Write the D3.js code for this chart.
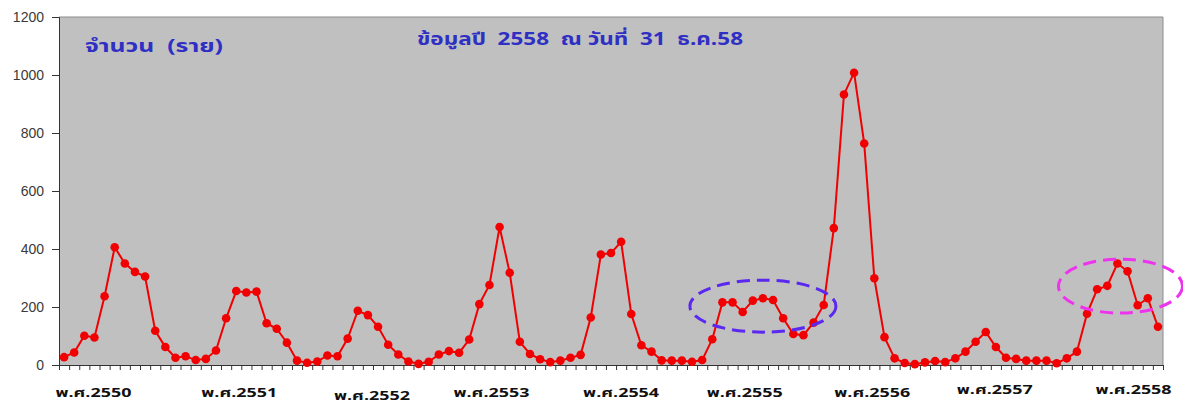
<!DOCTYPE html>
<html>
<head>
<meta charset="utf-8">
<script src="https://cdn.jsdelivr.net/npm/d3@7"></script>
<style>
  body { margin: 0; background: #fff; }
  svg { display: block; }
  .ytick text { font-family: Arial, "Liberation Sans", sans-serif; font-size: 14px; fill: #3a3a3a; }
  .xlab { font-family: Tahoma, "Noto Sans Thai", "DejaVu Sans", sans-serif; font-size: 13px; font-weight: bold; fill: #111; }
  .note { font-family: Tahoma, "Noto Sans Thai", "DejaVu Sans", sans-serif; font-weight: bold; fill: #2f2fc4; white-space: pre; }
</style>
</head>
<body>
<div id="chart"></div>
<script>
// monthly cases, Jan 2550 onwards (last value trails past Dec 2558)
var cases = [
  27, 43, 101, 95, 237, 406, 350, 321, 305, 118, 62, 25,
  30, 17, 21, 50, 161, 255, 250, 253, 144, 125, 77, 15,
  8, 12, 33, 30, 91, 187, 172, 132, 70, 36, 12, 4,
  11, 36, 48, 42, 88, 210, 276, 476, 318, 80, 38, 20,
  10, 15, 25, 35, 164, 381, 386, 425, 176, 68, 46, 16,
  15, 15, 11, 17, 89, 216, 216, 183, 222, 230, 224, 161,
  107, 103, 146, 207, 472, 933, 1008, 764, 299, 96, 23, 7,
  3, 9, 14, 10, 23, 46, 80, 114, 62, 25, 21, 15,
  15, 15, 6, 23, 46, 177, 261, 273, 350, 323, 206, 230, 132
];
var yearLabels = ['พ.ศ.2550', 'พ.ศ.2551', 'พ.ศ.2552', 'พ.ศ.2553', 'พ.ศ.2554',
                  'พ.ศ.2555', 'พ.ศ.2556', 'พ.ศ.2557', 'พ.ศ.2558'];
var yTicks = [0, 200, 400, 600, 800, 1000, 1200];
var unitText = 'จำนวน  (ราย)';
var titleText = 'ข้อมูลปี  2558  ณ วันที่  31  ธ.ค.58';

var width = 1183, height = 405;
var plotL = 59, plotR = 1163, plotT = 17, plotB = 365;

var svg = d3.select('#chart').append('svg')
  .attr('width', width)
  .attr('height', height);

var x = d3.scaleBand().domain(d3.range(cases.length)).range([plotL, plotR]);
var xEdge = d3.scaleLinear().domain([0, cases.length]).range([plotL, plotR]);
var y = d3.scaleLinear().domain([0, 1200]).range([plotB, plotT]);
var cx = function(i) { return x(i) + x.bandwidth() / 2; };

// plot area
svg.append('rect')
  .attr('x', plotL).attr('y', plotT)
  .attr('width', plotR - plotL).attr('height', plotB - plotT)
  .attr('fill', '#c0c0c0');
svg.append('path')
  .attr('d', 'M' + plotL + ',' + plotT + 'H' + plotR + 'V' + plotB)
  .attr('fill', 'none').attr('stroke', '#8c8c8c');

// y axis
var yAxis = svg.append('g')
  .attr('class', 'ytick')
  .attr('transform', 'translate(' + plotL + ',0)')
  .call(d3.axisLeft(y).tickValues(yTicks).tickSize(7).tickPadding(8).tickFormat(d3.format('d')));
yAxis.select('.domain').attr('stroke', '#333');
yAxis.selectAll('line').attr('stroke', '#333');

// x axis, ticks on category edges
var xAxis = svg.append('g')
  .attr('transform', 'translate(0,' + plotB + ')')
  .call(d3.axisBottom(xEdge).tickValues(d3.range(cases.length + 1)).tickSize(5).tickFormat(''));
xAxis.select('.domain').attr('stroke', '#333');
xAxis.selectAll('line').attr('stroke', '#333');

// year labels (hand placed like the original text boxes)
var labelSlot = [2.9, 17.3, 30.4, 42.2, 55.0, 67.2, 79.8, 91.9, 105.6];
var labelY = [397, 397, 400, 397, 397, 397, 397, 394, 394];
svg.selectAll('.xlab')
  .data(yearLabels)
  .enter().append('text')
  .attr('class', 'xlab')
  .attr('x', function(d, i) { return xEdge(labelSlot[i] + 0.5) - 38; })
  .attr('y', function(d, i) { return labelY[i]; })
  .attr('textLength', 76)
  .attr('lengthAdjust', 'spacingAndGlyphs')
  .text(function(d) { return d; });

// series
var line = d3.line()
  .x(function(d, i) { return cx(i); })
  .y(function(d) { return y(d); });

svg.append('path')
  .datum(cases)
  .attr('d', line)
  .attr('fill', 'none')
  .attr('stroke', '#f00000')
  .attr('stroke-width', 2);

svg.selectAll('.dot')
  .data(cases)
  .enter().append('circle')
  .attr('class', 'dot')
  .attr('cx', function(d, i) { return cx(i); })
  .attr('cy', function(d) { return y(d); })
  .attr('r', 4.3)
  .attr('fill', '#f00000');

// highlight rings
svg.append('ellipse')
  .attr('cx', xEdge(69.5)).attr('cy', y(203))
  .attr('rx', 73).attr('ry', 26)
  .attr('fill', 'none').attr('stroke', '#5a28f0')
  .attr('stroke-width', 3).attr('stroke-dasharray', '13,7');
svg.append('ellipse')
  .attr('cx', xEdge(104.8)).attr('cy', y(272))
  .attr('rx', 62).attr('ry', 27)
  .attr('fill', 'none').attr('stroke', '#ee33ee')
  .attr('stroke-width', 3).attr('stroke-dasharray', '13,7');

// notes
svg.append('text')
  .attr('class', 'note')
  .attr('x', 85).attr('y', 52)
  .attr('font-size', 17)
  .attr('textLength', 138)
  .attr('lengthAdjust', 'spacingAndGlyphs')
  .text(unitText);
svg.append('text')
  .attr('class', 'note')
  .attr('x', 417).attr('y', 45)
  .attr('font-size', 17)
  .attr('textLength', 326)
  .attr('lengthAdjust', 'spacingAndGlyphs')
  .text(titleText);
</script>
</body>
</html>
